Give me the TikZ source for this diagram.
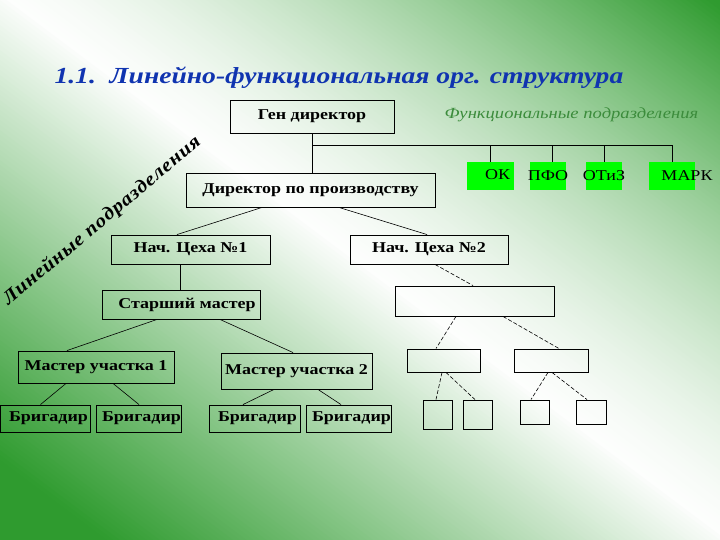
\documentclass[tikz,border=0pt]{standalone}
\usepackage{fontspec}
\setmainfont[FakeStretch=1.2]{Liberation Serif}
\newfontfamily\diagfont[LetterSpace=5,FakeStretch=1.1]{Liberation Serif}
\definecolor{bggreen}{RGB}{47,155,47}
\definecolor{titleblue}{RGB}{16,52,176}
\definecolor{funcgreen}{RGB}{60,140,60}
\definecolor{unitgreen}{RGB}{0,255,0}

\begin{document}
\begin{tikzpicture}[x=1pt,y=-1pt,
    box/.style={draw,line width=0.9pt,inner sep=0pt,font=\fontsize{15}{17}\selectfont\bfseries},
    unitbox/.style={fill=unitgreen,inner sep=0pt,minimum height=28,font=\fontsize{15}{17}\selectfont},
    link/.style={line width=0.6pt},
    dlink/.style={line width=0.6pt,dash pattern=on 4pt off 2pt}]
    % background: green corners, white band along the diagonal
    \begin{scope}
        \clip (0,0) rectangle (720,540);
        \foreach \d in {-460,-456,...,460} {
            \pgfmathsetmacro\p{100*min(1,\d>0 ? pow(max(0.001,(abs(\d)+15)/440),1.5) : max(0.001,(abs(\d)+10)/380))}
            \fill[bggreen!\p!white]
                ({360+0.6*\d-416},{270-0.8*\d-312}) -- ({360+0.6*\d+416},{270-0.8*\d+312})
                -- ({360+0.6*(\d+5)+416},{270-0.8*(\d+5)+312}) -- ({360+0.6*(\d+5)-416},{270-0.8*(\d+5)-312}) -- cycle;
        }
    \end{scope}
    \useasboundingbox (0,0) rectangle (720,540);

    \node[anchor=base west,text=titleblue,font=\fontsize{23}{26}\selectfont\bfseries\itshape]
        (title) at (51,84) {1.1.\ \ Линейно-функциональная орг. структура};
    \node[anchor=base west,text=funcgreen,font=\fontsize{15.5}{17}\selectfont\itshape]
        (functitle) at (441,119) {Функциональные подразделения};
    \node[rotate=40,font=\fontsize{19}{21}\diagfont\bfseries\itshape]
        (linetitle) at (102,221) {Линейные подразделения};

    % line units
    \node[box,minimum width=164,minimum height=33] (gen) at (312,116.5) {Ген директор};
    \node[box,minimum width=249,minimum height=34] (dir) at (310.5,190) {Директор по производству};
    \node[box,minimum width=159,minimum height=29] (n1) at (190.5,249.5) {Нач. Цеха №1};
    \node[box,minimum width=158,minimum height=29] (n2) at (429,249.5) {Нач. Цеха №2};
    \node[box,minimum width=158,minimum height=29] (sm) at (181,304.5) {\hspace*{12pt}Старший мастер};
    \node[box,minimum width=156,minimum height=32] (m1) at (96,367) {Мастер участка 1};
    \node[box,minimum width=151,minimum height=36] (m2) at (296.5,371) {Мастер участка 2};
    \node[box,minimum width=90,minimum height=27] (b1) at (45.5,418.5) {\makebox[0pt]{\hspace*{6pt}Бригадир}};
    \node[box,minimum width=85,minimum height=27] (b2) at (138.5,418.5) {\makebox[0pt]{\hspace*{6pt}Бригадир}};
    \node[box,minimum width=91,minimum height=27] (b3) at (254.5,418.5) {\makebox[0pt]{\hspace*{6pt}Бригадир}};
    \node[box,minimum width=85,minimum height=27] (b4) at (348.5,418.5) {\makebox[0pt]{\hspace*{6pt}Бригадир}};

    % empty units
    \node[box,minimum width=159,minimum height=30] (e) at (474.5,301) {};
    \node[box,minimum width=73,minimum height=23] (e1) at (443.5,360.5) {};
    \node[box,minimum width=74,minimum height=23] (e2) at (551,360.5) {};
    \node[box,minimum width=29,minimum height=29] (t1) at (437.5,414.5) {};
    \node[box,minimum width=29,minimum height=29] (t2) at (477.5,414.5) {};
    \node[box,minimum width=29,minimum height=24] (t3) at (534.5,412) {};
    \node[box,minimum width=30,minimum height=24] (t4) at (591,412) {};

    % functional units
    \node[unitbox,minimum width=47] (ok) at (490.5,176) {\raisebox{3pt}{\makebox[0pt]{\hspace*{14pt}ОК}}};
    \node[unitbox,minimum width=36] (pfo) at (548,176) {\makebox[0pt]{ПФО}};
    \node[unitbox,minimum width=36] (otiz) at (604,176) {\makebox[0pt]{ОТиЗ}};
    \node[unitbox,minimum width=46] (mark) at (672,176) {\raisebox{-3pt}{\makebox[0pt]{\hspace*{30pt}МАРК}}};

    \coordinate (bus) at (312,145);
    \draw[link] (gen.south) -- (gen.south |- dir.north);
    \draw[link] (bus) -| (ok.north);
    \draw[link] (bus) -| ([xshift=4pt]pfo.north);
    \draw[link] (bus) -| (otiz.north);
    \draw[link] (bus) -| (mark.north);

    \draw[link] ([xshift=-48.5pt]dir.south) -- ([xshift=-13.5pt]n1.north);
    \draw[link] ([xshift=28.5pt]dir.south) -- ([xshift=-2pt]n2.north);
    \draw[link] ([xshift=-10.5pt]n1.south) -- ([xshift=-1pt]sm.north);
    \draw[link] ([xshift=-24pt]sm.south) -- ([xshift=-29pt]m1.north);
    \draw[link] ([xshift=39pt]sm.south) -- ([xshift=-3.5pt]m2.north);
    \draw[link] ([xshift=-30pt]m1.south) -- ([xshift=-5pt]b1.north);
    \draw[link] ([xshift=17pt]m1.south) -- ([xshift=0.5pt]b2.north);
    \draw[link] ([xshift=-22.5pt]m2.south) -- ([xshift=-11.5pt]b3.north);
    \draw[link] ([xshift=21.5pt]m2.south) -- ([xshift=-7.5pt]b4.north);

    \draw[dlink] ([xshift=6pt]n2.south) -- ([xshift=-1.5pt]e.north);
    \draw[dlink] ([xshift=-18.5pt]e.south) -- ([xshift=-7.5pt]e1.north);
    \draw[dlink] ([xshift=28.5pt]e.south) -- ([xshift=8pt]e2.north);
    \draw[dlink] ([xshift=-1.5pt]e1.south) -- ([xshift=-1.5pt]t1.north);
    \draw[dlink] ([xshift=2.5pt]e1.south) -- ([xshift=-2.5pt]t2.north);
    \draw[dlink] ([xshift=-3pt]e2.south) -- ([xshift=-3.5pt]t3.north);
    \draw[dlink] ([xshift=1pt]e2.south) -- ([xshift=-4pt]t4.north);
\end{tikzpicture}
\end{document}
